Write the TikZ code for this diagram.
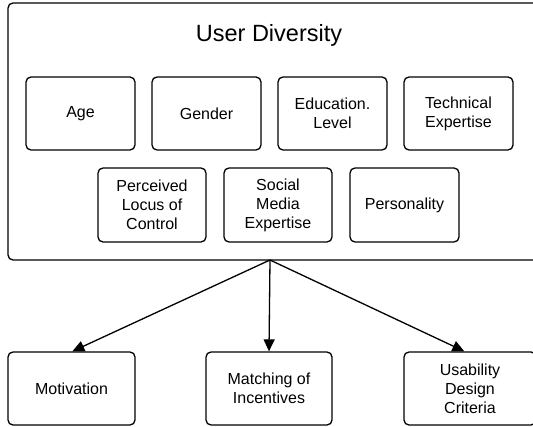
\documentclass[tikz,border=0pt]{standalone}
\usepackage{fontspec}
\setmainfont{Liberation Sans}
\usetikzlibrary{arrows.meta,calc}
\begin{document}
\begin{tikzpicture}[x=1pt,y=-1pt,
  line width=1.3pt,
  box/.style={draw,rounded corners=5pt,align=center,inner sep=0pt,
    font=\fontsize{16}{19}\selectfont},
  link/.style={-{Triangle[length=12pt,width=11pt]},line width=1.3pt}]
  \clip (0,0) rectangle (533,427);
  % enclosing frame
  \draw[rounded corners=5pt] (8,3) rectangle (540,260);
  \node[font=\fontsize{23.5}{28}\selectfont] (title) at (269,35) {User Diversity};
  % first row of factors
  \node[box,minimum width=109pt,minimum height=73pt] (age)  at (80.5,113.5) {Age};
  \node[box,minimum width=109pt,minimum height=73pt] (gen)  at (206.5,113.5) {Gender};
  \node[box,minimum width=109pt,minimum height=73pt] (edu)  at (332.5,113.5) {Education.\\Level};
  \node[box,minimum width=109pt,minimum height=73pt] (tech) at (458.5,113.5) {Technical\\Expertise};
  % second row of factors
  \node[box,minimum width=108pt,minimum height=74pt] (locus) at (152,205) {Perceived\\Locus of\\Control};
  \node[box,minimum width=108pt,minimum height=74pt] (smx)   at (278,205) {Social\\Media\\Expertise};
  \node[box,minimum width=109pt,minimum height=74pt] (pers)  at (404.5,205) {Personality};
  % outcomes
  \node[box,minimum width=127pt,minimum height=73pt] (mot)   at (71.5,388.5) {Motivation};
  \node[box,minimum width=126pt,minimum height=73pt] (match) at (269,388.5) {Matching of\\Incentives};
  \node[box,minimum width=132pt,minimum height=73pt] (usab)  at (470,388.5) {Usability\\Design\\Criteria};
  % connectors
  \coordinate (hub) at (270,260);
  \draw[link] (hub) -- ($(mot.north west)+(65,0)$);
  \draw[link] (hub) -- (match.north);
  \draw[link] (hub) -- ($(usab.north west)+(61,0)$);
\end{tikzpicture}
\end{document}
